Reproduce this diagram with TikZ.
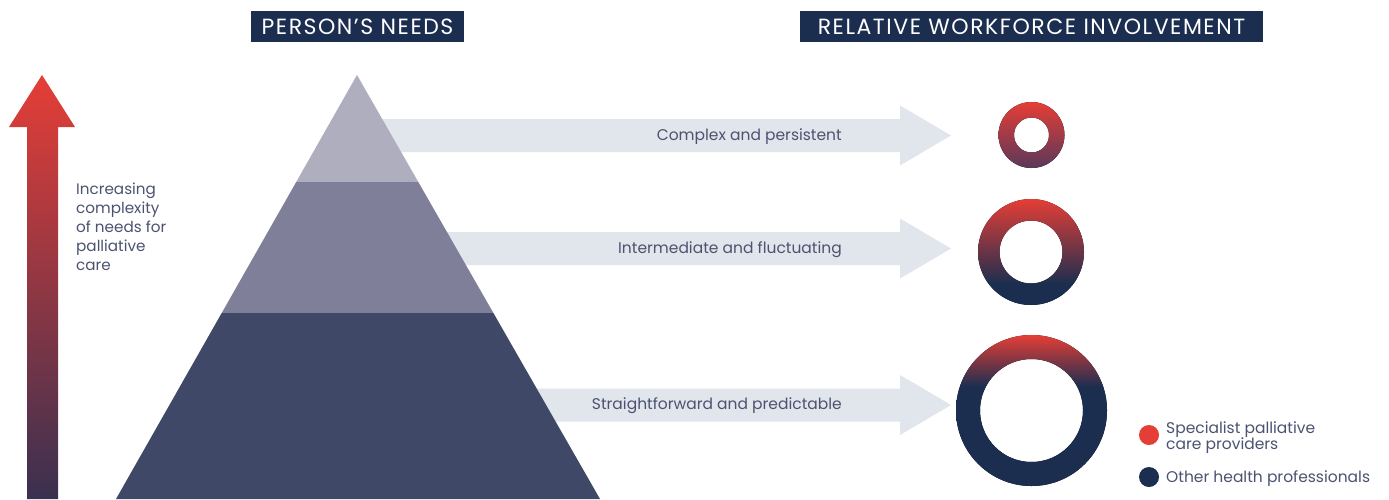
\documentclass[tikz,border=0pt]{standalone}
\usepackage{fontspec}
\setmainfont{Poppins}
\newfontfamily\hdrfont[LetterSpace=7]{Poppins}
\definecolor{navy}{RGB}{28,46,80}
\definecolor{cred}{RGB}{229,62,54}
\definecolor{txt}{RGB}{75,83,112}
\definecolor{tierA}{RGB}{175,174,191}
\definecolor{tierB}{RGB}{128,127,154}
\definecolor{tierC}{RGB}{64,72,104}
\definecolor{arr}{RGB}{225,229,236}
\definecolor{ringlow}{RGB}{90,56,90}
\definecolor{leftlow}{RGB}{58,48,80}
\pgfdeclareverticalshading{ringone}{100bp}{color(0bp)=(ringlow); color(25bp)=(ringlow); color(75bp)=(cred); color(100bp)=(cred)}
\pgfdeclareverticalshading{ringtwo}{100bp}{color(0bp)=(navy); color(35bp)=(navy); color(75bp)=(cred); color(100bp)=(cred)}
\pgfdeclareverticalshading{ringthree}{100bp}{color(0bp)=(navy); color(58bp)=(navy); color(75bp)=(cred); color(100bp)=(cred)}
\tikzset{
  hdr/.style={fill=navy, text=white, inner sep=0pt, minimum height=31pt, font=\hdrfont\fontsize{22}{24}\selectfont},
  lbl/.style={text=txt, inner sep=0pt, font=\fontsize{15.5}{19}\selectfont},
  side/.style={text=txt, inner sep=0pt, font=\fontsize{15.2}{19}\selectfont},
  leg/.style={text=txt, inner sep=0pt, align=left, font=\fontsize{15.5}{16}\selectfont},
  bigarrow/.style={fill=arr},
  dot/.style={circle, inner sep=0pt, minimum size=20pt},
}
\begin{document}
\begin{tikzpicture}[x=1pt,y=-1pt]
\useasboundingbox[fill=white] (0,0) rectangle (1389,499);
% headers
\node[hdr, minimum width=213pt] (h1) at (357.5,26.5) {PERSON’S NEEDS};
\node[hdr, minimum width=463pt] (h2) at (1031.5,26.5) {RELATIVE WORKFORCE INVOLVEMENT};
% left arrow
\shade[top color=cred, bottom color=leftlow]
  (42,75) -- (75,127) -- (58,127) -- (58,499) -- (27,499) -- (27,127) -- (9,127) -- cycle;
\node[side, anchor=north west, align=left] (sidetext) at (76,182.5)
  {Increasing\\complexity\\of needs for\\palliative\\care};
% broad arrows
\foreach \cy in {135.5,248.5,405} {
  \fill[bigarrow] (357,\cy-16.5) -- (900,\cy-16.5) -- (900,\cy-30) -- (951,\cy)
    -- (900,\cy+30) -- (900,\cy+16.5) -- (357,\cy+16.5) -- cycle;
}
% pyramid
\fill[tierA] (357,75) -- (418.3,182) -- (296.2,182) -- cycle;
\fill[tierB] (296.2,182) -- (418.3,182) -- (493.4,313) -- (221.7,313) -- cycle;
\fill[tierC] (221.7,313) -- (493.4,313) -- (600,499) -- (116,499) -- cycle;
% labels
\node[lbl, anchor=east] (l1) at (842,136.5) {Complex and persistent};
\node[lbl, anchor=east] (l2) at (842,249.5) {Intermediate and fluctuating};
\node[lbl, anchor=east] (l3) at (842,406) {Straightforward and predictable};
% rings
\fill[shading=ringone, even odd rule] (1031.5,135) circle[radius=33pt] (1031.5,135) circle[radius=17.5pt];
\fill[shading=ringtwo, even odd rule] (1031,252) circle[radius=53pt] (1031,252) circle[radius=31.5pt];
\fill[shading=ringthree, even odd rule] (1031.5,410.5) circle[radius=75.5pt] (1031.5,410.5) circle[radius=51.5pt];
% legend
\node[dot, fill=cred] (d1) at (1149,435) {};
\node[leg, anchor=west] (t1) at (1166,438) {Specialist palliative\\care providers};
\node[dot, fill=navy] (d2) at (1149,477) {};
\node[leg, anchor=west] (t2) at (1166,479) {Other health professionals};
\end{tikzpicture}
\end{document}
